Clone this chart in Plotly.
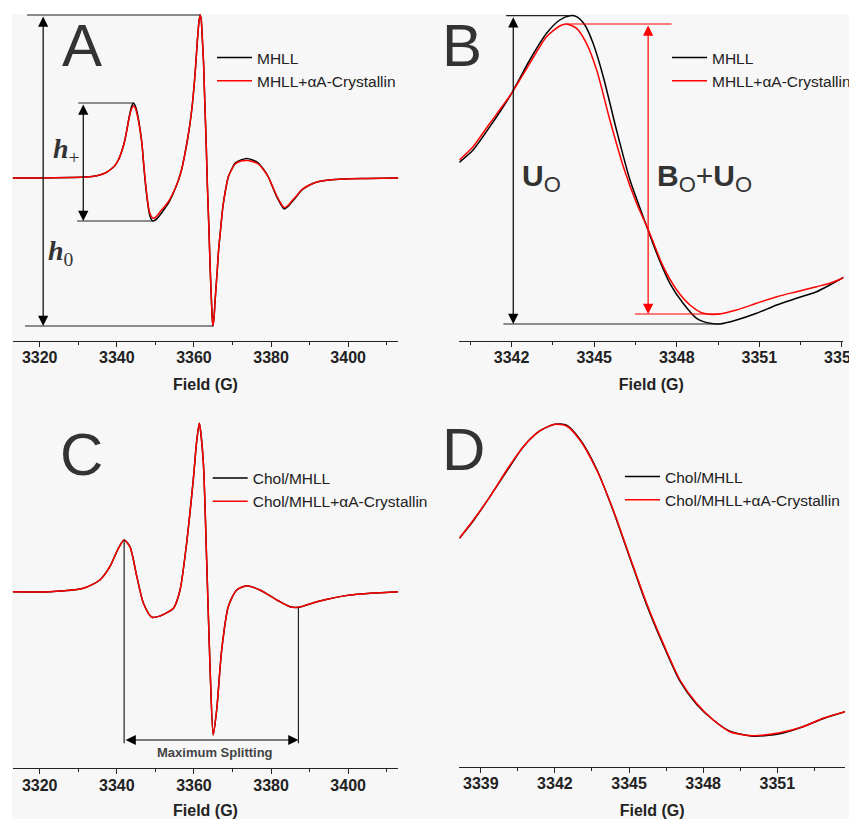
import plotly.graph_objects as go

# page is drawn with an 8px body margin, so the figure is 8px smaller than the window
OFF = 8
W, H = 857 - OFF, 819 - OFF

# ---------------- Panel A : full spectra, MHLL vs MHLL + aA-crystallin ----------------
a_field = [3313, 3320, 3328, 3332, 3334.8, 3337, 3338.2, 3339.4, 3340.4, 3341.3, 3342.1, 3342.7,
           3343.2, 3343.8, 3344.3, 3344.8, 3345.3, 3345.9, 3346.5, 3347.0, 3347.5, 3348.0, 3348.4,
           3348.9, 3349.3, 3350.0, 3350.8, 3351.6, 3352.5, 3353.4, 3354.2, 3355.1, 3356.0, 3356.9,
           3357.7, 3358.4, 3359.0, 3359.6, 3360.1, 3360.5, 3360.9, 3361.3, 3361.6, 3361.9, 3362.1,
           3362.5, 3362.8, 3363.2, 3363.5, 3363.9, 3364.2, 3364.6, 3364.9, 3365.2, 3365.5, 3366.0,
           3366.4, 3367.0, 3367.5, 3368.2, 3368.9, 3369.8, 3370.7, 3372.2, 3373.7, 3375.2, 3376.7,
           3378.0, 3379.3, 3380.4, 3381.5, 3382.5, 3383.4, 3384.4, 3385.4, 3386.7, 3388.0, 3390,
           3391.9, 3395, 3398.8, 3405, 3413]
a_mhll = [0, 0, 0.5, 1, 2.3, 5, 8, 12, 18, 27, 38, 50,
          61, 71, 75, 72, 65, 52, 35, 12, -9, -25, -35,
          -41, -43, -42, -39, -35, -30, -25, -19, -11, -2, 10,
          25, 40, 55, 74, 95, 115, 138, 156, 163, 158, 145,
          115, 78, 32, -9, -52, -89, -128, -148, -140, -122, -95,
          -72, -48, -29, -12, 1, 9, 15, 18, 19.5, 18, 15,
          9, 1, -9, -19, -26, -31, -28.5, -24, -18, -12, -7,
          -4, -2, -1, -0.5, 0]
a_mhll_acry = [0, 0, 0.5, 1, 2.3, 5, 8, 12, 18, 27, 38, 50,
               60, 69, 72, 70, 63, 51, 35, 13, -7, -23, -33,
               -38, -40, -39.5, -36, -32, -28, -23.5, -18, -10.5, -2, 10,
               25, 40, 55, 74, 95, 115, 138, 156, 163, 158, 145,
               115, 78, 32, -9, -52, -89, -128, -148, -140, -122, -95,
               -72, -48, -29, -12, 1, 8.5, 14, 17, 17.5, 16.5, 14,
               8.5, 1, -8.5, -18, -25, -29.5, -27.5, -23, -17.5, -11.5, -7,
               -4, -2, -1, -0.5, 0]

# ---------------- Panel B : low-field line, expanded ----------------
b_field_mhll = [3340.1, 3340.6, 3341.21, 3342.0, 3342.66, 3343.27, 3343.75, 3344.12, 3344.36,
                3344.66, 3344.96, 3345.33, 3345.81, 3346.3, 3346.78, 3347.27, 3347.75, 3348.23,
                3348.72, 3349.2, 3349.57, 3350.17, 3350.9, 3351.63, 3352.35, 3353.08, 3353.56, 3354.1]
b_mhll = [177.7, 190, 213.3, 246.7, 280, 306.7, 320, 324.3, 323.3,
          315, 296.7, 263.3, 210, 160, 123.3, 86.7, 56.7, 36.7,
          21.7, 16.7, 16, 20, 26.7, 35, 41.7, 48.3, 55, 63.3]
b_field_acry = [3340.1, 3340.6, 3341.21, 3342.0, 3342.66, 3343.27, 3343.75, 3343.99, 3344.36,
                3344.72, 3345.09, 3345.57, 3346.06, 3346.54, 3346.97, 3347.51, 3348.0, 3348.48,
                3348.96, 3349.57, 3350.17, 3350.9, 3351.63, 3352.35, 3353.08, 3353.56, 3354.1]
b_acry = [180, 193.3, 216.7, 246.7, 276.7, 303.3, 314, 316, 311.7,
          296.7, 270, 220, 173.3, 136.7, 110, 73.3, 50, 35,
          26.7, 26, 30, 36.7, 43.3, 48.3, 53.3, 56.7, 62.7]

# ---------------- Panel C : Chol/MHLL full spectra ----------------
c_field = [3313, 3322.7, 3331.3, 3335.6, 3338.2, 3340.4, 3341.9, 3343.4, 3345.2, 3346.9,
           3349.1, 3351.2, 3353.0, 3354.7, 3356.4, 3358.1, 3359.0, 3359.9, 3360.7, 3361.4,
           3362.4, 3363.3, 3364.2, 3365.0, 3365.9, 3367.2, 3368.9, 3371.1, 3373.7, 3377.1,
           3381.5, 3384.9, 3387.1, 3391.9, 3400.5, 3413]
c_chol = [0, 0, 3.4, 11.7, 25, 43.4, 51.7, 45, 15, -11.6,
          -25.6, -24.3, -21, -16.6, 1.7, 48.4, 80, 115, 150, 168.4,
          131.7, 31.7, -78.3, -143.3, -118.3, -58.3, -15, 1.7, 6, 1.7,
          -8.3, -15, -15.6, -10, -3.3, 0]
c_chol_acry = [0, 0, 3.4, 11.7, 25, 43.4, 51.7, 45, 15, -11.6,
               -25.6, -24.3, -21, -16.6, 1.7, 48.4, 80, 115, 150, 168.4,
               131.7, 31.7, -78.3, -143.3, -118.3, -58.3, -15, 1.7, 6, 1.7,
               -8.3, -15, -15.6, -10, -3.3, 0]

# ---------------- Panel D : Chol/MHLL low-field line, expanded ----------------
d_field = [3338.13, 3338.7, 3339.37, 3340.05, 3340.72, 3341.4, 3342.0, 3342.47, 3343.01,
           3343.69, 3344.36, 3345.03, 3345.71, 3346.38, 3347.06, 3347.73, 3348.41, 3349.08,
           3350.03, 3351.1, 3352.04, 3352.85, 3353.74]
d_chol = [228.4, 246, 270, 295.5, 320, 336, 342.4, 341.5, 327.5,
          297.5, 256, 209, 162, 122, 85.5, 62.5, 46.7, 35.5,
          30.5, 33, 40, 48, 55]
d_chol_acry = [228.4, 246.7, 270, 296.7, 320, 336, 342.4, 340.7, 326.7,
               296.7, 256.7, 210, 163.4, 123.4, 86.7, 63.4, 46.7, 35,
               31, 34, 40, 48.4, 55]

BLACK = '#000000'
RED = '#ff0000'
INK = '#222222'


def px(x):
    # x position measured on the 857px window -> paper fraction
    return (x - OFF) / W


def py(y):
    return 1 - (y - OFF) / H


fig = go.Figure()

panels = [
    ('x', 'y', 'legend', a_field, a_mhll, a_field, a_mhll_acry, 'MHLL', 'MHLL+\u03b1A-Crystallin'),
    ('x2', 'y2', 'legend2', b_field_mhll, b_mhll, b_field_acry, b_acry, 'MHLL', 'MHLL+\u03b1A-Crystallin'),
    ('x3', 'y3', 'legend3', c_field, c_chol, c_field, c_chol_acry, 'Chol/MHLL', 'Chol/MHLL+\u03b1A-Crystallin'),
    ('x4', 'y4', 'legend4', d_field, d_chol, d_field, d_chol_acry, 'Chol/MHLL', 'Chol/MHLL+\u03b1A-Crystallin'),
]
for xa, ya, lg, fx1, y1, fx2, y2, n1, n2 in panels:
    fig.add_trace(go.Scatter(x=fx1, y=y1, mode='lines', name=n1, xaxis=xa, yaxis=ya, legend=lg,
                             line=dict(color=BLACK, width=1.5, shape='spline', smoothing=0.7)))
    fig.add_trace(go.Scatter(x=fx2, y=y2, mode='lines', name=n2, xaxis=xa, yaxis=ya, legend=lg,
                             line=dict(color=RED, width=1.5, shape='spline', smoothing=0.7)))


def field_axis(domain, rng, tick0, dtick, minor0, anchor):
    return dict(
        domain=domain, range=rng, anchor=anchor, automargin=False,
        showline=True, linecolor=INK, linewidth=1.2,
        ticks='outside', ticklen=5, tickwidth=1.2, tickcolor=INK,
        tick0=tick0, dtick=dtick, ticklabelstandoff=-3, ticklabeloverflow='allow',
        minor=dict(tick0=minor0, dtick=dtick / 2, ticks='outside', ticklen=3,
                   tickwidth=1, tickcolor=INK),
        showgrid=False, zeroline=False,
        tickfont=dict(family='Arial', size=16, color=INK, weight='bold'),
        title=dict(text='Field (G)', standoff=14,
                   font=dict(family='Arial', size=16, color=INK, weight='bold')),
    )


def hidden_axis(domain, rng, anchor):
    return dict(domain=domain, range=rng, anchor=anchor, visible=False, showgrid=False,
                zeroline=False, automargin=False)


dom_left = [px(12.7), px(398.3)]
dom_right_b = [px(459.3), px(843.3)]
dom_right_d = [px(459.3), px(845)]
dom_top = [py(340.5), py(14)]
dom_bot_c = [py(768.3), py(414)]
dom_bot_d = [py(766.7), py(414)]


def legend_at(x, ytop):
    return dict(x=px(x), y=py(ytop), xanchor='left', yanchor='top', bgcolor='rgba(0,0,0,0)',
                font=dict(family='Arial', size=15.5, color='#222'), itemwidth=35)


shapes = [dict(type='rect', xref='paper', yref='paper', x0=px(12), x1=1, y0=0, y1=py(14),
               fillcolor='#f7f7f7', line=dict(width=0), layer='below')]
annotations = []


def hline(xr, yr, x0, x1, y, color=INK):
    shapes.append(dict(type='line', xref=xr, yref=yr, x0=x0, x1=x1, y0=y, y1=y,
                       line=dict(color=color, width=1.2)))


def vline(xr, yr, x, y0, y1, color=INK):
    shapes.append(dict(type='line', xref=xr, yref=yr, x0=x, x1=x, y0=y0, y1=y1,
                       line=dict(color=color, width=1.2)))


def double_arrow(xr, yr, x0, y0, x1, y1, color=BLACK):
    annotations.append(dict(xref=xr, yref=yr, axref=xr, ayref=yr, x=x1, y=y1, ax=x0, ay=y0,
                            text='', showarrow=True, arrowside='end+start',
                            arrowhead=2, startarrowhead=2, arrowsize=1.7, startarrowsize=1.7,
                            arrowwidth=1.2, arrowcolor=color))


def label(xp, yp, text, size, bold=False, family='Arial', color='#333', xanchor='center'):
    annotations.append(dict(xref='paper', yref='paper', x=px(xp), y=py(yp), text=text,
                            showarrow=False, xanchor=xanchor, yanchor='middle',
                            font=dict(family=family, size=size, color=color,
                                      weight='bold' if bold else 'normal')))


# --- Panel A annotations (h0 and h+) ---
a_top = max(a_mhll)
a_bot = min(a_mhll)
a_top_f = a_field[a_mhll.index(a_top)]
a_bot_f = a_field[a_mhll.index(a_bot)]
hp_top = max(v for f, v in zip(a_field, a_mhll) if f < 3350)
hp_bot = min(v for f, v in zip(a_field, a_mhll) if 3345 < f < 3356)
hp_top_f = a_field[a_mhll.index(hp_top)]
hp_bot_f = a_field[a_mhll.index(hp_bot)]
hline('x', 'y', 3316.7, a_top_f, a_top)
hline('x', 'y', 3316.2, a_bot_f, a_bot)
double_arrow('x', 'y', 3320.9, a_top, 3320.9, a_bot)
hline('x', 'y', 3330.0, hp_top_f, hp_top)
hline('x', 'y', 3329.7, hp_bot_f, hp_bot)
double_arrow('x', 'y', 3331.3, hp_top, 3331.3, hp_bot)
serif = 'Liberation Serif, Times New Roman, serif'
label(66, 150, '<b><i>h</i></b><sub>+</sub>', 28, family=serif)
label(61, 252, '<b><i>h</i></b><sub>0</sub>', 28, family=serif)

# --- Panel B annotations (Uo and Bo+Uo) ---
b_top = max(b_mhll)
b_bot = min(b_mhll)
b_top_f = b_field_mhll[b_mhll.index(b_top)]
b_bot_f = b_field_mhll[b_mhll.index(b_bot)]
r_top = max(b_acry)
r_bot = min(b_acry)
r_top_f = b_field_acry[b_acry.index(r_top)]
hline('x2', 'y2', 3341.8, b_top_f, b_top)
hline('x2', 'y2', 3341.7, b_bot_f, b_bot)
double_arrow('x2', 'y2', 3342.06, b_top, 3342.06, b_bot)
hline('x2', 'y2', r_top_f, 3347.81, r_top, RED)
hline('x2', 'y2', 3346.48, b_bot_f, r_bot, RED)
double_arrow('x2', 'y2', 3346.96, r_top, 3346.96, r_bot, RED)
sub_o = '<sub><span style="font-size:22px">O</span></sub>'
label(520, 178, '<b>U</b>' + sub_o, 30, xanchor='left')
label(655, 178, '<b>B</b>' + sub_o + '+<b>U</b>' + sub_o, 30, xanchor='left')

# --- Panel C annotation (maximum splitting) ---
c_pk = max(v for f, v in zip(c_field, c_chol) if f < 3350)
c_pk_f = c_field[c_chol.index(c_pk)]
c_hf = min(v for f, v in zip(c_field, c_chol) if f > 3375)
c_hf_f = c_field[c_chol.index(c_hf)]
c_low = -151.6
vline('x3', 'y3', c_pk_f, c_pk, c_low)
vline('x3', 'y3', c_hf_f, c_hf, c_low)
double_arrow('x3', 'y3', c_pk_f, -148.3, c_hf_f, -148.3)
label(215, 752.5, 'Maximum Splitting', 13, bold=True, color='#444')

# --- big panel letters ---
label(81.5, 45.5, 'A', 60)
label(461.7, 45.5, 'B', 60)
label(81.7, 454, 'C', 60)
label(463.3, 449.5, 'D', 60)

fig.update_layout(
    width=W, height=H,
    margin=dict(l=0, r=0, t=0, b=0),
    paper_bgcolor='white',
    plot_bgcolor='rgba(0,0,0,0)',
    xaxis=field_axis(dom_left, [3313, 3413], 3320, 20, 3310, 'y'),
    yaxis=hidden_axis(dom_top, [-162.5, 164], 'x'),
    xaxis2=field_axis(dom_right_b, [3340.1, 3354.05], 3342, 3, 3340.5, 'y2'),
    yaxis2=hidden_axis(dom_top, [-0.5, 326], 'x2'),
    xaxis3=field_axis(dom_left, [3313, 3413], 3320, 20, 3310, 'y3'),
    yaxis3=hidden_axis(dom_bot_c, [-176.6, 177.7], 'x3'),
    xaxis4=field_axis(dom_right_d, [3338.13, 3353.74], 3339, 3, 3340.5, 'y4'),
    yaxis4=hidden_axis(dom_bot_d, [0, 352.7], 'x4'),
    legend=legend_at(212, 41),
    legend2=legend_at(667, 41),
    legend3=legend_at(207.7, 461.5),
    legend4=legend_at(620, 460),
    shapes=shapes,
    annotations=annotations,
)

fig.write_html('out.html')
